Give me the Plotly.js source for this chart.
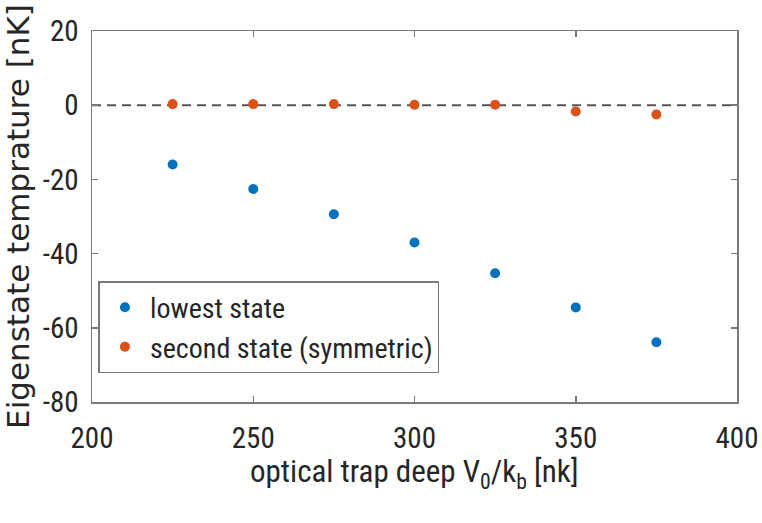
<!DOCTYPE html>
<html><head><meta charset="utf-8">
<script src="https://cdn.plot.ly/plotly-3.0.1.min.js"></script>
<style>html,body{margin:0;padding:0;background:#fff}</style>
</head><body>
<div id="chart" style="width:762px;height:523px"></div>
<script>
const trapDepth = [225, 250, 275, 300, 325, 350, 375];
const lowestState = [-16, -22.6, -29.4, -37, -45.3, -54.5, -63.9];
const secondState = [0.3, 0.3, 0.3, 0.1, 0.1, -1.7, -2.5];
const zeroLineX = [200, 400];
const zeroLineY = [0, 0];
const xTicks = [200, 250, 300, 350, 400];
const yTicks = [-80, -60, -40, -20, 0, 20];
const xTitle = 'optical trap deep V<sub>0</sub>/k<sub>b</sub> [nk]';
const yTitle = 'Eigenstate temprature [nK]';

const COND = '"Roboto Condensed", "Liberation Sans", Arial, sans-serif';
const WIDE = '"DejaVu Sans", "Liberation Sans", Arial, sans-serif';
const axisColor = '#7a7a7a';
const textColor = '#262626';

const traces = [
  {x: zeroLineX, y: zeroLineY, mode: 'lines', line: {color: '#555555', width: 2, dash: '9px,6px'}, showlegend: false, hoverinfo: 'skip'},
  {x: trapDepth, y: lowestState, mode: 'markers', name: 'lowest state', marker: {color: '#0072BD', size: 10}},
  {x: trapDepth, y: secondState, mode: 'markers', name: 'second state (symmetric)', marker: {color: '#D95319', size: 10}}
];

const layout = {
  width: 762, height: 523,
  margin: {l: 92, r: 25, t: 31, b: 121},
  paper_bgcolor: '#fff', plot_bgcolor: '#fff',
  font: {family: COND, size: 28, color: textColor},
  showlegend: true,
  legend: {x: 0.01, y: 0.326, xanchor: 'left', yanchor: 'top', bgcolor: '#fff', bordercolor: axisColor, borderwidth: 1.5,
           font: {family: COND, size: 28, color: textColor}, itemwidth: 40, tracegroupgap: 0},
  xaxis: {
    range: [200, 400], tickvals: xTicks, ticktext: xTicks.map(String),
    ticks: 'inside', ticklen: 6, tickcolor: axisColor, tickwidth: 1.5,
    showline: true, linecolor: axisColor, linewidth: 1.5, mirror: 'ticks',
    showgrid: false, zeroline: false, ticklabelstandoff: 10,
    tickfont: {family: COND, size: 29, color: textColor}
  },
  yaxis: {
    range: [-80, 20], tickvals: yTicks, ticktext: yTicks.map(String),
    ticks: 'inside', ticklen: 6, tickcolor: axisColor, tickwidth: 1.5,
    showline: true, linecolor: axisColor, linewidth: 1.5, mirror: 'ticks',
    showgrid: false, zeroline: false, ticklabelstandoff: 6,
    tickfont: {family: COND, size: 29, color: textColor},
    title: {text: yTitle, font: {family: WIDE, size: 31, color: textColor, weight: 400}, standoff: 6}
  },
  annotations: [
    {text: xTitle, xref: 'paper', yref: 'paper', x: 0.5, y: -0.133, xanchor: 'center', yanchor: 'top',
     showarrow: false, font: {family: COND, size: 31, color: textColor}}
  ]
};

Plotly.newPlot('chart', traces, layout, {displayModeBar: false, staticPlot: true});
</script>
</body></html>
